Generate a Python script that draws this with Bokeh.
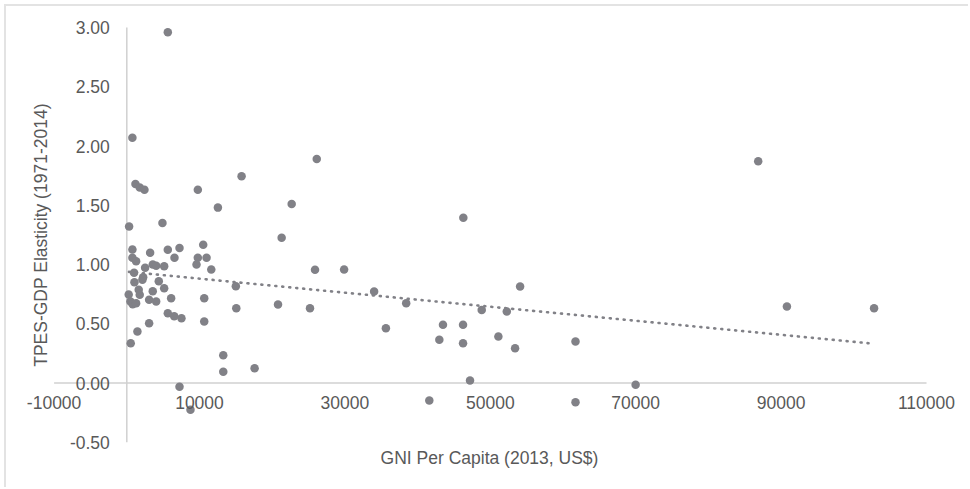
import math
from bokeh.plotting import figure
from bokeh.models import LinearAxis, FixedTicker, NumeralTickFormatter, ColumnDataSource, Label
from bokeh.embed import file_html
from bokeh.resources import INLINE

# ---- data ----
gni = [5640, 770, 1190, 1780, 2430, 9770, 15790, 26130, 12530, 22680,
       317, 4906, 21300, 772, 3210, 5640, 7250, 10510, 772, 1280,
       2520, 3570, 4040, 5140, 6560, 9770, 10970, 9590, 11620, 1000,
       2250, 2150, 1050, 4400, 15000, 5140, 1640, 3570, 262, 1780,
       6100, 3070, 4040, 10650, 500, 810, 1280, 20800, 5640, 6520,
       7520, 15060, 25200, 3070, 10650, 1460, 540, 13270, 13270, 17580,
       7250, 8760, 25890, 29890, 34020, 38430, 35640, 43490, 46250, 42990,
       46250, 48820, 52270, 54100, 51110, 53410, 61720, 47210, 41610, 61720,
       69990, 46290, 86850, 90800, 102790]
elasticity = [2.96, 2.07, 1.68, 1.65, 1.63, 1.63, 1.745, 1.89, 1.48, 1.51,
              1.32, 1.35, 1.225, 1.127, 1.10, 1.124, 1.14, 1.166, 1.057, 1.028,
              0.972, 1.00, 0.989, 0.986, 1.057, 1.057, 1.057, 1.00, 0.958, 0.93,
              0.893, 0.871, 0.85, 0.859, 0.817, 0.80, 0.786, 0.775, 0.747, 0.744,
              0.716, 0.702, 0.688, 0.716, 0.688, 0.665, 0.674, 0.662, 0.589, 0.564,
              0.547, 0.631, 0.631, 0.505, 0.519, 0.435, 0.336, 0.235, 0.094, 0.125,
              -0.032, -0.226, 0.955, 0.958, 0.772, 0.673, 0.462, 0.491, 0.491, 0.364,
              0.336, 0.617, 0.603, 0.814, 0.392, 0.294, 0.35, 0.021, -0.148, -0.162,
              -0.015, 1.394, 1.872, 0.646, 0.631]

trend_x = [300, 102790]
trend_y = [0.938, 0.331]

x_ticks = [-10000, 10000, 30000, 50000, 70000, 90000, 110000]
y_ticks = [-0.5, 0.0, 0.5, 1.0, 1.5, 2.0, 2.5, 3.0]
x_axis_extent = [-10000, 110000]
y_axis_extent = [-0.5, 3.0]

x_title = "GNI Per Capita (2013, US$)"
y_title = "TPES-GDP Elasticity (1971-2014)"

# ---- layout (page pixels) ----
OX, OY = 6, 6            # content origin on the page
W, H = 964, 483
X0_PX, KX = 126.3, 0.00727   # page x of GNI=0, px per unit
Y0_PX, KY = 382.5, 118.5     # page y of elasticity=0, px per unit

def dx(px):
    return (px - X0_PX) / KX

def dy(py):
    return (Y0_PX - py) / KY

TEXT = "#595959"
AXIS = "#d0d0d0"
DOT = "#818187"
FONT = "Liberation Sans"
FS = "17.5px"

p = figure(width=W, height=H,
           x_range=(dx(OX), dx(OX + W)), y_range=(dy(OY + H), dy(OY)),
           x_axis_location=None, y_axis_location=None,
           toolbar_location=None, output_backend="svg",
           min_border_left=0, min_border_right=0,
           min_border_top=0, min_border_bottom=0)
p.outline_line_color = None
p.xgrid.visible = False
p.ygrid.visible = False
p.background_fill_color = "white"
p.border_fill_color = "white"
p.styles = {"margin-left": "4px", "margin-top": "4px",
            "border-top": "2px solid #e3e3e3", "border-left": "2px solid #e3e3e3"}

# axis lines crossing at zero
p.segment(x0=[x_axis_extent[0]], y0=[0], x1=[x_axis_extent[1]], y1=[0],
          line_color=AXIS, line_width=1.5)
p.segment(x0=[0], y0=[y_axis_extent[0]], x1=[0], y1=[y_axis_extent[1]],
          line_color=AXIS, line_width=1.5)

# tick labels next to the crossing lines
xa = LinearAxis(fixed_location=0, ticker=FixedTicker(ticks=x_ticks),
                formatter=NumeralTickFormatter(format="0"))
ya = LinearAxis(fixed_location=0, ticker=FixedTicker(ticks=y_ticks),
                formatter=NumeralTickFormatter(format="0.00"))
for ax in (xa, ya):
    ax.axis_line_color = None
    ax.major_tick_line_color = None
    ax.minor_tick_line_color = None
    ax.major_tick_out = 0
    ax.major_tick_in = 0
    ax.major_label_text_font = FONT
    ax.major_label_text_font_size = FS
    ax.major_label_text_color = TEXT
xa.major_label_standoff = 13
ya.major_label_standoff = 17
p.add_layout(xa, "below")
p.add_layout(ya, "left")

# axis titles
p.add_layout(Label(x=dx(489), y=dy(457.5), text=x_title,
                   text_align="center", text_baseline="middle",
                   text_font=FONT, text_font_size=FS, text_color=TEXT))
p.add_layout(Label(x=dx(40.5), y=dy(234.5), text=y_title, angle=math.pi / 2,
                   text_align="center", text_baseline="middle",
                   text_font=FONT, text_font_size=FS, text_color=TEXT))

src = ColumnDataSource(dict(x=gni, y=elasticity))
p.line(trend_x, trend_y, line_color=DOT, line_width=2.6,
       line_dash="1 6", line_cap="round")
p.scatter("x", "y", source=src, size=8.5, fill_color=DOT, line_color=None)

open("out.html", "w").write(file_html(p, INLINE))
